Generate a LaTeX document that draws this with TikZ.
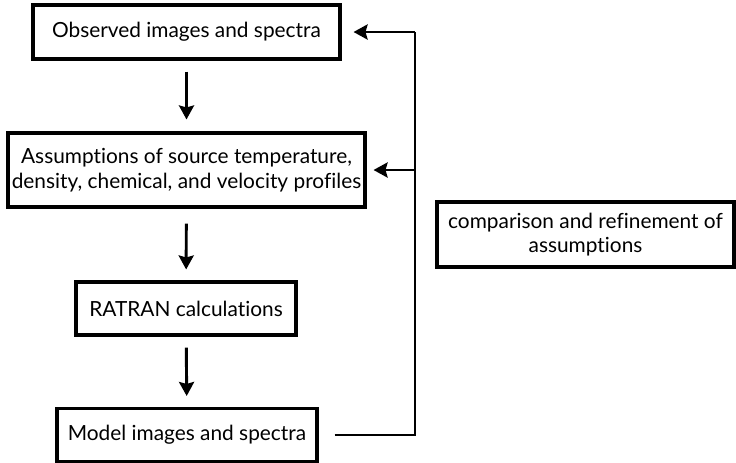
\documentclass[tikz,border=0pt]{standalone}
\usepackage{fontspec}
\setmainfont[Ligatures={NoCommon}]{Lato}
\usetikzlibrary{arrows.meta}

\begin{document}
\begin{tikzpicture}[x=0.03cm,y=-0.03cm,->,>={Stealth[length=0.42cm,width=0.45cm,inset=0.06cm]},line width=2.5pt]
   \useasboundingbox (0,0) rectangle (736,462);
   \fontsize{17.8}{21}\selectfont
   \tikzstyle{main}=[rectangle, draw=black, line width=2.6pt, align=center, inner sep=2pt]
   \node[main,minimum width=9.21cm,minimum height=1.62cm] (observed) at (186.5,32) {Observed images and spectra};
   \node[main,minimum width=10.71cm,minimum height=2.22cm] (assume) at (186.5,170) {Assumptions of source temperature,\\density, chemical, and velocity profiles};
   \node[main,minimum width=6.6cm,minimum height=1.59cm] (ratran) at (186,308.5) {RATRAN calculations};
   \node[main,minimum width=7.8cm,minimum height=1.59cm] (model) at (187,435) {Model images and spectra};
   \node[main,minimum width=8.91cm,minimum height=1.95cm] (compare) at (585.5,234.5) {comparison and refinement of\\assumptions};
   % downward steps
   \path (observed) edge[shorten <=0.33cm, shorten >=0.36cm] (assume);
   \path (assume) edge[shorten <=0.45cm, shorten >=0.33cm] (ratran);
   \path (ratran) edge[shorten <=0.33cm, shorten >=0.33cm] (model);
   % feedback loop
   \coordinate (loopbot) at (415,435);
   \coordinate (loopmid) at (415,170);
   \coordinate (looptop) at (415,32);
   \draw[-] ([xshift=0.48cm]model.east) -- (loopbot) -- (looptop);
   \path (looptop) edge[shorten >=0.36cm] (observed.east);
   \path (loopmid) edge[shorten >=0.21cm] (assume.east);
\end{tikzpicture}
\end{document}
